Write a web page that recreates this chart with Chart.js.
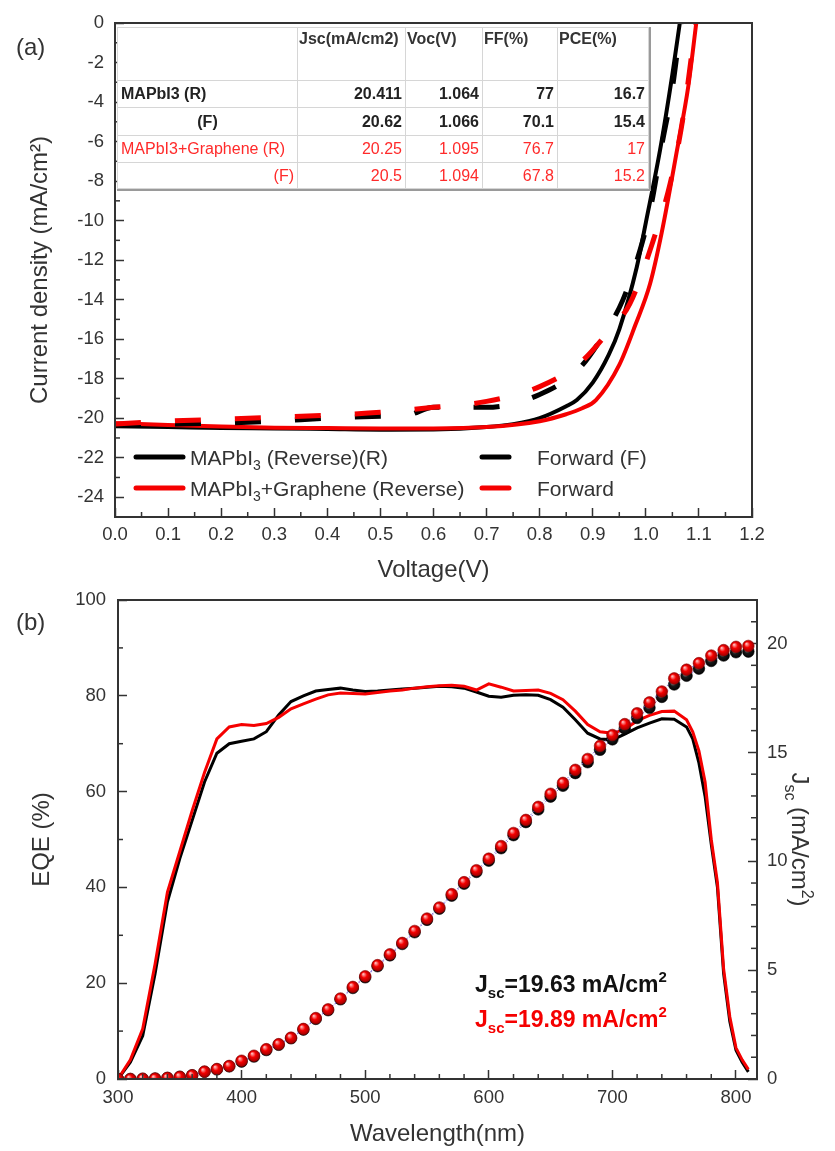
<!DOCTYPE html>
<html>
<head>
<meta charset="utf-8">
<script src="https://cdn.jsdelivr.net/npm/chart.js@4.4.1/dist/chart.umd.min.js"></script>
<style>
  html, body { margin: 0; padding: 0; background: #fff; }
  #page { position: relative; width: 835px; height: 1151px; font-family: "Liberation Sans", Arial, sans-serif; }
  #jvChart { position: absolute; left: 0; top: 0; }
  #eqeChart { position: absolute; left: 0; top: 585px; }
  #paramTable {
    position: absolute; left: 117px; top: 27px; width: 531px;
    border-collapse: collapse; table-layout: fixed; background: #fff;
    font-size: 16px; box-shadow: 1px 1px 0 1px #9a9a9a;
  }
  #paramTable td { border: 1px solid #d6d6d6; padding: 0 3px; white-space: nowrap; text-align: right; color: #222; font-weight: bold; overflow: hidden; }
  #paramTable tr.head td { vertical-align: top; text-align: left; padding-top: 2px; padding-left: 1px; color: #333; }
  #paramTable tr.red td { color: #ff2a2a; font-weight: normal; }
</style>
</head>
<body>
<div id="page">
  <canvas id="jvChart" width="835" height="585"></canvas>
  <table id="paramTable"></table>
  <canvas id="eqeChart" width="835" height="566"></canvas>
</div>
<script>
// ---- (a) J-V curves ----
const vBlackRev = [0, 0.1, 0.2, 0.3, 0.4, 0.5, 0.6, 0.7, 0.75, 0.8, 0.85, 0.87, 0.9, 0.93, 0.95, 0.983, 1.0, 1.027, 1.05, 1.064];
const jBlackRev = [-20.41, -20.45, -20.5, -20.52, -20.55, -20.58, -20.57, -20.45, -20.3, -20.0, -19.4, -19.08, -18.2, -16.8, -15.5, -12.35, -10.1, -6.4, -2.6, 0];
const vRedRev = [0, 0.1, 0.2, 0.3, 0.4, 0.5, 0.6, 0.7, 0.8, 0.85, 0.88, 0.906, 0.95, 0.98, 1.008, 1.03, 1.059, 1.08, 1.095];
const jRedRev = [-20.25, -20.35, -20.42, -20.48, -20.5, -20.52, -20.52, -20.45, -20.15, -19.8, -19.5, -19.08, -17.3, -15.3, -13.2, -10.6, -6.4, -3.2, 0];
const vBlackFwd = [0, 0.1, 0.2, 0.3, 0.4, 0.5, 0.55, 0.6, 0.7, 0.8, 0.872, 0.92, 0.957, 0.989, 1.008, 1.03, 1.05, 1.066];
const jBlackFwd = [-20.35, -20.3, -20.25, -20.15, -20.0, -19.9, -19.85, -19.45, -19.45, -18.8, -17.56, -15.8, -14.0, -11.5, -9.5, -6.2, -3.3, 0];
const vRedFwd = [0, 0.1, 0.2, 0.3, 0.4, 0.5, 0.6, 0.7, 0.8, 0.876, 0.93, 0.97, 1.014, 1.046, 1.07, 1.094];
const jRedFwd = [-20.3, -20.15, -20.05, -19.95, -19.85, -19.7, -19.45, -19.15, -18.4, -17.2, -15.6, -14.2, -11.0, -8.1, -4.8, 0];
const jvYTicks = [-24, -22, -20, -18, -16, -14, -12, -10, -8, -6, -4, -2, 0];

// inset table
const tableHeads = ['', 'Jsc(mA/cm2)', 'Voc(V)', 'FF(%)', 'PCE(%)'];
const tableNames = ['MAPbI3 (R)', '(F)', 'MAPbI3+Graphene (R)', '(F)'];
const tableJsc = [20.411, 20.62, 20.25, 20.5];
const tableVoc = [1.064, 1.066, 1.095, 1.094];
const tableFF = [77, 70.1, 76.7, 67.8];
const tablePCE = [16.7, 15.4, 17, 15.2];

// ---- (b) EQE + integrated Jsc ----
const eqeWave = [300, 310, 320, 330, 340, 350, 360, 370, 380, 390, 400, 410, 420, 430, 440, 450, 460, 470, 480, 490,
  500, 510, 520, 530, 540, 550, 560, 570, 580, 590, 600, 610, 620, 630, 640, 650, 660, 670, 680, 690,
  700, 710, 720, 730, 740, 750, 760, 765, 770, 775, 780, 785, 790, 795, 800, 805, 810];
const eqeBlack = [0, 3.5, 9, 22, 37, 46, 54, 62, 68, 70, 70.5, 71, 72.5, 76, 78.8, 80, 81, 81.3, 81.6, 81.2,
  80.9, 81, 81.2, 81.4, 81.6, 81.8, 82, 81.9, 81.6, 80.8, 79.9, 79.7, 80.1, 80.2, 80.1, 79.2, 77.6, 75, 72.2, 71,
  70.8, 72, 73.3, 74.3, 75.2, 75.1, 73.5, 71, 66, 59, 49, 40, 22, 12, 6, 3.5, 1.5];
const eqeRed = [0, 4, 10.5, 24, 39, 47.5, 56, 64, 71, 73.5, 74, 73.8, 74.2, 75.5, 77.3, 78.3, 79.3, 80.2, 80.6, 80.5,
  80.4, 80.7, 81, 81.2, 81.6, 81.9, 82.1, 82.2, 82, 81.2, 82.5, 81.8, 81, 81.1, 81.2, 80.5, 79.2, 76.8, 74, 72.5,
  72.2, 73, 74.8, 75.9, 76.7, 76.8, 75, 72.5, 68.5, 62, 50, 41, 23, 13, 6.5, 4, 2];
const jscWave = [300, 310, 320, 330, 340, 350, 360, 370, 380, 390, 400, 410, 420, 430, 440, 450, 460, 470, 480, 490,
  500, 510, 520, 530, 540, 550, 560, 570, 580, 590, 600, 610, 620, 630, 640, 650, 660, 670, 680, 690,
  700, 710, 720, 730, 740, 750, 760, 770, 780, 790, 800, 810];
const jscBlack = [0, 0, 0.01, 0.02, 0.05, 0.1, 0.17, 0.33, 0.44, 0.58, 0.8, 1.03, 1.33, 1.57, 1.87, 2.27, 2.76, 3.16, 3.66, 4.18,
  4.67, 5.18, 5.68, 6.2, 6.74, 7.31, 7.82, 8.42, 8.97, 9.51, 10.03, 10.6, 11.2, 11.8, 12.38, 12.97, 13.47, 14.05, 14.55, 15.12,
  15.6, 16.1, 16.58, 17.05, 17.55, 18.12, 18.52, 18.85, 19.2, 19.45, 19.6, 19.63];
const jscRed = [0, 0, 0.01, 0.02, 0.05, 0.1, 0.17, 0.34, 0.46, 0.6, 0.84, 1.07, 1.37, 1.6, 1.9, 2.3, 2.8, 3.2, 3.7, 4.23,
  4.72, 5.23, 5.73, 6.25, 6.8, 7.37, 7.88, 8.49, 9.04, 9.59, 10.12, 10.7, 11.3, 11.9, 12.5, 13.1, 13.6, 14.2, 14.7, 15.3,
  15.8, 16.3, 16.8, 17.3, 17.8, 18.4, 18.8, 19.1, 19.45, 19.7, 19.85, 19.89];
const eqeXTicks = [300, 400, 500, 600, 700, 800];
const jscTicks = [0, 5, 10, 15, 20];

const FONT = '"Liberation Sans", Arial, sans-serif';
const AXIS = '#333';
const RED = '#f50000';

function pts(xs, ys) {
  return xs.map((x, i) => ({ x, y: ys[i] }));
}

// text with sub/superscript parts: [{t, s}] s = 'sub' | 'sup'
function drawRich(ctx, parts, x, y, size, weight, color, align) {
  const fontFor = p => `${weight} ${p.s ? Math.round(size * 0.65) : size}px ${FONT}`;
  let w = 0;
  parts.forEach(p => { ctx.font = fontFor(p); w += ctx.measureText(p.t).width; });
  let cx = align === 'center' ? x - w / 2 : x;
  ctx.fillStyle = color;
  ctx.textBaseline = 'alphabetic';
  ctx.textAlign = 'left';
  parts.forEach(p => {
    ctx.font = fontFor(p);
    const dy = p.s === 'sub' ? size * 0.28 : p.s === 'sup' ? -size * 0.42 : 0;
    ctx.fillText(p.t, cx, y + dy);
    cx += ctx.measureText(p.t).width;
  });
}

// frame around the plot area
const frame = {
  id: 'frame',
  afterDraw(chart) {
    const { ctx, chartArea: a } = chart;
    ctx.save();
    ctx.strokeStyle = AXIS;
    ctx.lineWidth = 2;
    ctx.strokeRect(a.left, a.top, a.right - a.left, a.bottom - a.top);
    ctx.restore();
  }
};

// short inward minor ticks
const minorTicks = {
  id: 'minorTicks',
  afterDraw(chart, args, opts) {
    const ctx = chart.ctx;
    ctx.save();
    ctx.strokeStyle = AXIS;
    ctx.lineWidth = 1.5;
    (opts.list || []).forEach(m => {
      const s = chart.scales[m.id];
      const first = Math.ceil(s.min / m.step - 1e-9);
      for (let i = first; i * m.step <= s.max + 1e-9; i++) {
        const v = i * m.step;
        const r = v / m.major;
        if (Math.abs(r - Math.round(r)) < 1e-6) continue;
        const p = s.getPixelForValue(v);
        ctx.beginPath();
        if (s.position === 'left') { ctx.moveTo(s.right, p); ctx.lineTo(s.right + m.len, p); }
        else if (s.position === 'right') { ctx.moveTo(s.left, p); ctx.lineTo(s.left - m.len, p); }
        else { ctx.moveTo(p, s.top); ctx.lineTo(p, s.top - m.len); }
        ctx.stroke();
      }
    });
    ctx.restore();
  }
};

const tickFont = { family: FONT, size: 18.5 };
const titleFont = { family: FONT, size: 24 };

// fixed box size for an axis, and no extra label overflow padding
function fixSize(prop, size) {
  return s => {
    s[prop] = size;
    s.paddingTop = 0; s.paddingBottom = 0; s.paddingLeft = 0; s.paddingRight = 0;
  };
}

function useTicks(values) {
  return s => { s.ticks = values.map(v => ({ value: v })); };
}

function axisBase(extra) {
  return Object.assign({
    type: 'linear',
    border: { color: AXIS, width: 2 },
    grid: { drawOnChartArea: false, tickLength: -9, tickColor: AXIS, tickWidth: 1.5 },
  }, extra);
}

// ---------- panel (a) ----------
const jvDecor = {
  id: 'jvDecor',
  afterDraw(chart) {
    const ctx = chart.ctx;
    ctx.save();
    drawRich(ctx, [{ t: '(a)' }], 16, 55, 24, 'normal', AXIS, 'left');
    const rows = [
      { y: 457, color: '#000', left: [{ t: 'MAPbI' }, { t: '3', s: 'sub' }, { t: ' (Reverse)(R)' }], right: 'Forward (F)' },
      { y: 488, color: RED, left: [{ t: 'MAPbI' }, { t: '3', s: 'sub' }, { t: '+Graphene (Reverse)' }], right: 'Forward' }
    ];
    rows.forEach(r => {
      ctx.strokeStyle = r.color;
      ctx.lineWidth = 5;
      ctx.lineCap = 'round';
      ctx.beginPath(); ctx.moveTo(136, r.y); ctx.lineTo(183, r.y); ctx.stroke();
      ctx.beginPath(); ctx.moveTo(482, r.y); ctx.lineTo(509, r.y); ctx.stroke();
      drawRich(ctx, r.left, 190, r.y + 7.5, 21, 'normal', AXIS, 'left');
      drawRich(ctx, [{ t: r.right }], 537, r.y + 7.5, 21, 'normal', AXIS, 'left');
    });
    ctx.restore();
  }
};

const jvLine = (data, color, dashed) => ({
  data,
  borderColor: color,
  borderWidth: dashed ? 5 : 4,
  borderDash: dashed ? [26, 34] : [],
  pointRadius: 0,
  cubicInterpolationMode: 'monotone',
  fill: false
});

new Chart(document.getElementById('jvChart'), {
  type: 'line',
  data: {
    datasets: [
      jvLine(pts(vRedFwd, jRedFwd), RED, true),
      jvLine(pts(vBlackFwd, jBlackFwd), '#000', true),
      jvLine(pts(vRedRev, jRedRev), RED, false),
      jvLine(pts(vBlackRev, jBlackRev), '#000', false)
    ]
  },
  options: {
    responsive: false,
    animation: false,
    events: [],
    layout: { padding: { top: 23, right: 83, left: 0, bottom: 0 } },
    plugins: {
      legend: { display: false },
      tooltip: { enabled: false },
      minorTicks: { list: [{ id: 'x', step: 0.05, major: 0.1, len: 5 }, { id: 'y', step: 1, major: 2, len: 5 }] }
    },
    scales: {
      x: axisBase({
        position: 'bottom', min: 0, max: 1.2,
        ticks: { stepSize: 0.1, padding: 16, color: AXIS, font: tickFont, maxRotation: 0, autoSkip: false, callback: v => v.toFixed(1) },
        title: { display: true, text: 'Voltage(V)', color: AXIS, font: titleFont, padding: { top: 0, bottom: 0 } },
        afterFit: fixSize('height', 68)
      }),
      y: axisBase({
        position: 'left', min: -25, max: 0,
        ticks: { padding: 20, color: AXIS, font: tickFont, autoSkip: false },
        afterBuildTicks: useTicks(jvYTicks),
        title: { display: true, text: 'Current density (mA/cm²)', color: AXIS, font: titleFont, padding: { top: 26, bottom: 0 } },
        afterFit: fixSize('width', 115)
      })
    }
  },
  plugins: [frame, minorTicks, jvDecor]
});

// inset table
(function buildTable() {
  const colW = [180, 108, 77, 75, 91];
  const rowH = [53, 27, 28, 27, 26];
  const align = ['left', 'center', 'left', 'right'];
  const table = document.getElementById('paramTable');
  let html = '<colgroup>' + colW.map(w => `<col style="width:${w}px">`).join('') + '</colgroup>';
  html += `<tr class="head" style="height:${rowH[0]}px">` + tableHeads.map(h => `<td>${h}</td>`).join('') + '</tr>';
  tableNames.forEach((name, i) => {
    const cls = i >= 2 ? 'red' : '';
    html += `<tr class="${cls}" style="height:${rowH[i + 1]}px"><td style="text-align:${align[i]}">${name}</td>` +
      [tableJsc[i], tableVoc[i], tableFF[i], tablePCE[i]].map(v => `<td>${v}</td>`).join('') + '</tr>';
  });
  table.innerHTML = html;
})();

// ---------- panel (b) ----------
function sphereFill(light, base, dark) {
  return function (c) {
    if (c.type !== 'data' || !c.parsed) return base;
    const ch = c.chart, sx = ch.scales.x, sy = ch.scales.yJ;
    if (!sx || !sy) return base;
    const px = sx.getPixelForValue(c.parsed.x), py = sy.getPixelForValue(c.parsed.y);
    if (!isFinite(px) || !isFinite(py)) return base;
    const g = ch.ctx.createRadialGradient(px - 2, py - 2.2, 0.4, px, py, 6);
    g.addColorStop(0, light);
    g.addColorStop(0.45, base);
    g.addColorStop(1, dark);
    return g;
  };
}

const eqeDecor = {
  id: 'eqeDecor',
  afterDraw(chart) {
    const ctx = chart.ctx;
    const a = chart.chartArea;
    ctx.save();
    drawRich(ctx, [{ t: '(b)' }], 16, 45, 24, 'normal', AXIS, 'left');
    drawRich(ctx, [{ t: 'J' }, { t: 'sc', s: 'sub' }, { t: '=19.63 mA/cm' }, { t: '2', s: 'sup' }], 475, 407, 23, 'bold', '#111', 'left');
    drawRich(ctx, [{ t: 'J' }, { t: 'sc', s: 'sub' }, { t: '=19.89 mA/cm' }, { t: '2', s: 'sup' }], 475, 442, 23, 'bold', RED, 'left');
    // right axis title, rotated clockwise
    ctx.translate(800, (a.top + a.bottom) / 2);
    ctx.rotate(Math.PI / 2);
    drawRich(ctx, [{ t: 'J' }, { t: 'sc', s: 'sub' }, { t: ' (mA/cm' }, { t: '2', s: 'sup' }, { t: ')' }], 0, 8, 24, 'normal', AXIS, 'center');
    ctx.restore();
  }
};

const sphereSet = (data, light, base, dark) => ({
  data,
  yAxisID: 'yJ',
  borderColor: 'rgba(120, 95, 215, 0.85)',
  borderWidth: 1,
  borderDash: [2, 2],
  pointRadius: 5.8,
  pointBorderWidth: 0.6,
  pointBorderColor: dark,
  pointBackgroundColor: sphereFill(light, base, dark),
  tension: 0
});

new Chart(document.getElementById('eqeChart'), {
  type: 'line',
  data: {
    datasets: [
      sphereSet(pts(jscWave, jscRed), '#ffb8b8', '#f40000', '#990000'),
      sphereSet(pts(jscWave, jscBlack), '#9a9a9a', '#1a1a1a', '#000'),
      { data: pts(eqeWave, eqeRed), yAxisID: 'y', borderColor: RED, borderWidth: 3, pointRadius: 0, tension: 0 },
      { data: pts(eqeWave, eqeBlack), yAxisID: 'y', borderColor: '#000', borderWidth: 3, pointRadius: 0, tension: 0 }
    ]
  },
  options: {
    responsive: false,
    animation: false,
    events: [],
    layout: { padding: { top: 15, right: 0, left: 0, bottom: 0 } },
    plugins: {
      legend: { display: false },
      tooltip: { enabled: false },
      minorTicks: { list: [
        { id: 'x', step: 20, major: 100, len: 5 },
        { id: 'y', step: 10, major: 20, len: 5 },
        { id: 'yJ', step: 1, major: 5, len: 6 }
      ] }
    },
    scales: {
      x: axisBase({
        position: 'bottom', min: 300, max: 817,
        ticks: { padding: 17, color: AXIS, font: tickFont, maxRotation: 0, autoSkip: false },
        afterBuildTicks: useTicks(eqeXTicks),
        title: { display: true, text: 'Wavelength(nm)', color: AXIS, font: titleFont, padding: { top: 0, bottom: 2 } },
        afterFit: fixSize('height', 72)
      }),
      y: axisBase({
        position: 'left', min: 0, max: 100,
        ticks: { stepSize: 20, padding: 21, color: AXIS, font: tickFont, autoSkip: false },
        title: { display: true, text: 'EQE (%)', color: AXIS, font: titleFont, padding: { top: 28, bottom: 0 } },
        afterFit: fixSize('width', 118)
      }),
      yJ: axisBase({
        position: 'right', min: 0, max: 22,
        ticks: { padding: 19, color: AXIS, font: tickFont, autoSkip: false },
        afterBuildTicks: useTicks(jscTicks),
        afterFit: fixSize('width', 78)
      })
    }
  },
  plugins: [frame, minorTicks, eqeDecor]
});
</script>
</body>
</html>
